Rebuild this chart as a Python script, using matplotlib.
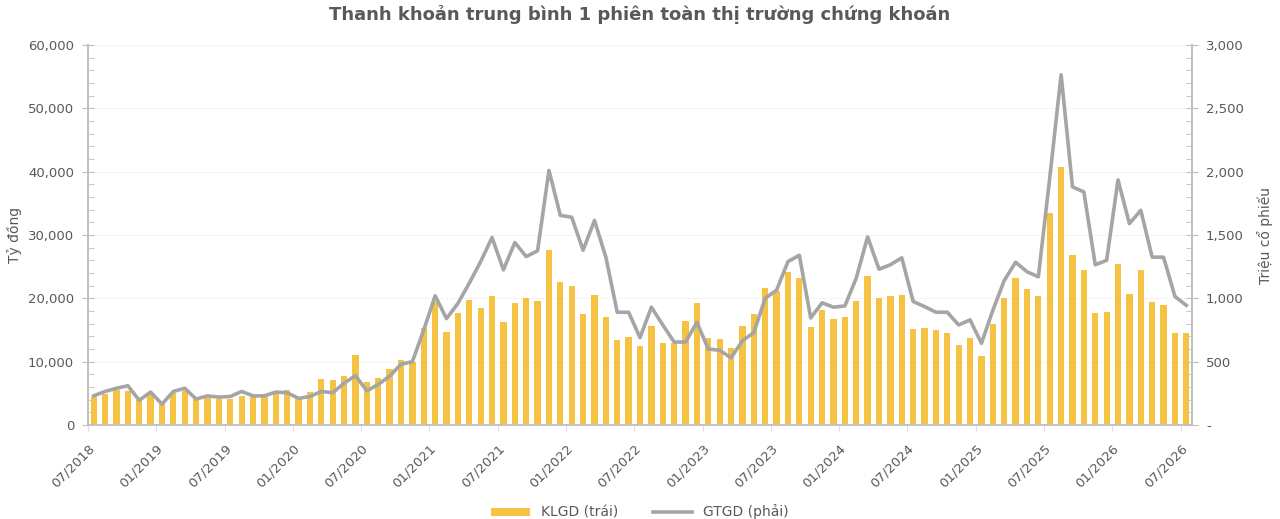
import numpy as np
import matplotlib
matplotlib.use('Agg')
import matplotlib.pyplot as plt
from matplotlib.ticker import MultipleLocator, FuncFormatter

# Data: monthly, 07/2018 .. 07/2026
start_year, start_month = 2018, 7
n_months = 97

# KLGD (trái) - bars, left axis
klgd = [4500, 4900, 5500, 5300, 3900, 4900, 3300, 5100, 5300, 4200, 4300, 4100, 4100, 4600, 4500, 4500, 4900, 5500,
        4100, 5200, 7200, 7100, 7800, 11100, 6800, 7500, 8900, 10300, 9900, 15300, 19500, 14700, 17700, 19700, 18500, 20300,
        16200, 19300, 20100, 19600, 27700, 22600, 21900, 17500, 20600, 17100, 13500, 13900, 12400, 15600, 12900, 13000, 16400, 19300, 13800,
        13600, 12200, 15700, 17600, 21700, 21200, 24200, 23200, 15400, 18200, 16700, 17100, 19600, 23600, 20100, 20300, 20500, 15100,
        15300, 15000, 14600, 12600, 13800, 10900, 15900, 20100, 23200, 21400, 20400, 33500, 40800, 26900, 24500, 17700, 17800, 25400, 20700,
        24500, 19400, 18900, 14500, 14500]

# GTGD (phải) - line, right axis
gtgd = [230, 265, 290, 310, 195, 260, 165, 265, 290, 205, 230, 220, 225, 265, 230, 230, 260, 255,
        210, 225, 265, 255, 330, 390, 270, 320, 385, 480, 500, 750, 1020, 840, 960, 1120, 1290, 1480,
        1225, 1440, 1330, 1375, 2010, 1655, 1640, 1380, 1615, 1325, 890, 890, 690, 930, 790, 655, 655, 810, 600,
        590, 530, 665, 730, 1000, 1065, 1290, 1340, 845, 965, 930, 940, 1160, 1485, 1230, 1265, 1320, 975,
        935, 890, 890, 790, 830, 645, 905, 1140, 1285, 1210, 1170, 1950, 2765, 1880, 1840, 1265, 1300, 1935, 1590,
        1695, 1325, 1325, 1015, 945]

# tick labels every 6 months
tick_idx = list(range(0, n_months, 6))
tick_labels = []
for i in tick_idx:
    m = start_month - 1 + i
    tick_labels.append('%02d/%d' % (m % 12 + 1, start_year + m // 12))

text_color = '#595959'
bar_color = '#F5C244'
line_color = '#A5A5A5'
axis_color = '#BFBFBF'

plt.rcParams['font.family'] = ['DejaVu Sans']

fig = plt.figure(figsize=(12.8, 5.19), dpi=100)
ax = fig.add_axes([88 / 1280, 1 - 425 / 519, (1192 - 88) / 1280, 380 / 519])
ax2 = ax.twinx()

x = np.arange(n_months)
ax.bar(x, klgd, width=0.55, color=bar_color, label='KLGD (trái)', zorder=2)
ax2.plot(x, gtgd, color=line_color, linewidth=2.6, label='GTGD (phải)', zorder=3)

ax.set_xlim(-0.5, n_months - 0.5)
ax.set_ylim(0, 60000)
ax2.set_ylim(0, 3000)

ax.yaxis.set_major_locator(MultipleLocator(10000))
ax.yaxis.set_minor_locator(MultipleLocator(2000))
ax.yaxis.set_major_formatter(FuncFormatter(lambda v, p: '{:,.0f}'.format(v)))
ax2.yaxis.set_major_locator(MultipleLocator(500))
ax2.yaxis.set_minor_locator(MultipleLocator(100))
ax2.yaxis.set_major_formatter(FuncFormatter(lambda v, p: '-' if v == 0 else '{:,.0f}'.format(v)))

ax.set_xticks([i - 0.5 for i in tick_idx])
ax.set_xticklabels(tick_labels, rotation=45, ha='right', rotation_mode='anchor')

# faint gridlines
ax.grid(axis='y', color='#F2F2F2', linewidth=0.6, zorder=0)
ax.set_axisbelow(True)

for a in (ax, ax2):
    a.spines['top'].set_visible(False)
    for s in ('left', 'right', 'bottom'):
        a.spines[s].set_color(axis_color)
        a.spines[s].set_linewidth(1.2)
    a.tick_params(colors=text_color, labelsize=9.5)
ax.spines['bottom'].set_color('#D9DDE6')
ax.tick_params(axis='y', which='major', direction='inout', length=8, color=axis_color, pad=6)
ax.tick_params(axis='y', which='minor', direction='in', length=4, color=axis_color)
ax2.tick_params(axis='y', which='major', direction='inout', length=8, color=axis_color, pad=6)
ax2.tick_params(axis='y', which='minor', direction='in', length=4, color=axis_color)
ax.tick_params(axis='x', direction='out', length=4, color='#D9DDE6', pad=8)

fig.text(15 / 1280, 1 - 235 / 519, 'Tỷ đồng', rotation=90, ha='center', va='center',
         color=text_color, fontsize=10)
fig.text(1265 / 1280, 1 - 235 / 519, 'Triệu cổ phiếu', rotation=90, ha='center', va='center',
         color=text_color, fontsize=10)

fig.suptitle('Thanh khoản trung bình 1 phiên toàn thị trường chứng khoán',
             x=0.5, y=0.99, fontsize=13, fontweight='bold', color=text_color)

h1, l1 = ax.get_legend_handles_labels()
h2, l2 = ax2.get_legend_handles_labels()
fig.legend(h1 + h2, l1 + l2, loc='lower center', bbox_to_anchor=(0.5, -0.025), ncol=2,
           frameon=False, fontsize=10, labelcolor=text_color, handlelength=2.8,
           handleheight=0.5, columnspacing=2.5)

fig.savefig('out.png', dpi=100)
